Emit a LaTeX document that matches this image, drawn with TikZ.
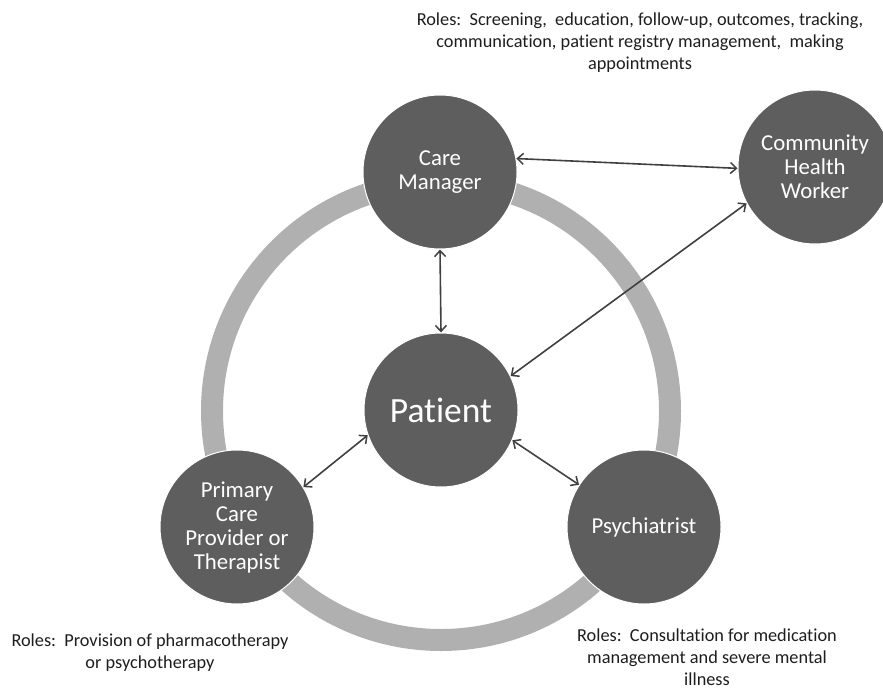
\documentclass[tikz,border=0pt]{standalone}
\usepackage{fontspec}
\setmainfont[Ligatures={NoCommon,NoRequired,NoContextual,NoRare}]{Carlito}
\usetikzlibrary{arrows.meta}
\newcommand{\tiSep}{t\kern0pt i}
\definecolor{nodegray}{RGB}{94,94,94}
\definecolor{ringgray}{RGB}{176,176,176}
\definecolor{arrowgray}{RGB}{64,64,64}
\definecolor{txt}{RGB}{30,30,30}
\tikzset{
  actor/.style={circle, fill=nodegray, draw=white, line width=1bp, minimum size=154bp, inner sep=0pt, text=white, align=center, font=\fontsize{22.8bp}{24bp}\selectfont},
  roles/.style={text=txt, align=center, font=\fontsize{18.3bp}{22bp}\selectfont},
  link/.style={draw=arrowgray, line width=1.6bp, {Straight Barb[length=6bp,width=11bp,line width=1.5bp]}-{Straight Barb[length=6bp,width=11bp,line width=1.5bp]}}
}
\begin{document}
\begin{tikzpicture}[x=1bp,y=-1bp]
\useasboundingbox (0,0) rectangle (883,692);
\clip (0,0) rectangle (883,692);
\fill[white] (0,0) rectangle (883,692);
% ring
\draw[ringgray, line width=22bp] (441,411) circle[radius=229bp];
% nodes
\node[actor] (cm) at (440,172) {Care\\Manager};
\node[actor] (chw) at (815,167) {Community\\Health\\Worker};
\node[actor, font=\fontsize{35.5bp}{38bp}\selectfont] (pat) at (441,410) {Pa\tiSep ent};
\node[actor] (pc) at (237,527) {Primary\\Care\\Provider or\\Therapist};
\node[actor] (psy) at (644,527) {Psychiatrist};
% connectors
\draw[link] (cm.10) -- (chw.181);
\draw[link] (cm.south) -- (pat.north);
\draw[link] (chw.208) -- (pat.26);
\draw[link] (pat.199) -- (pc.31);
\draw[link] (pat.337) -- (psy.147);
% role texts
\node[roles] (rcm) at (640,43) {Roles:\ \ Screening,\ \ educa\tiSep on, follow-up, outcomes, tracking,\\ communica\tiSep on, pa\tiSep ent registry management,\ \ making\\ appointments};
\node[roles] (rpc) at (150,653) {Roles:\ \ Provision of pharmacotherapy\\ or psychotherapy};
\node[roles] (rpsy) at (707,657) {Roles:\ \ Consulta\tiSep on for medica\tiSep on\\ management and severe mental\\ illness};
\end{tikzpicture}
\end{document}
